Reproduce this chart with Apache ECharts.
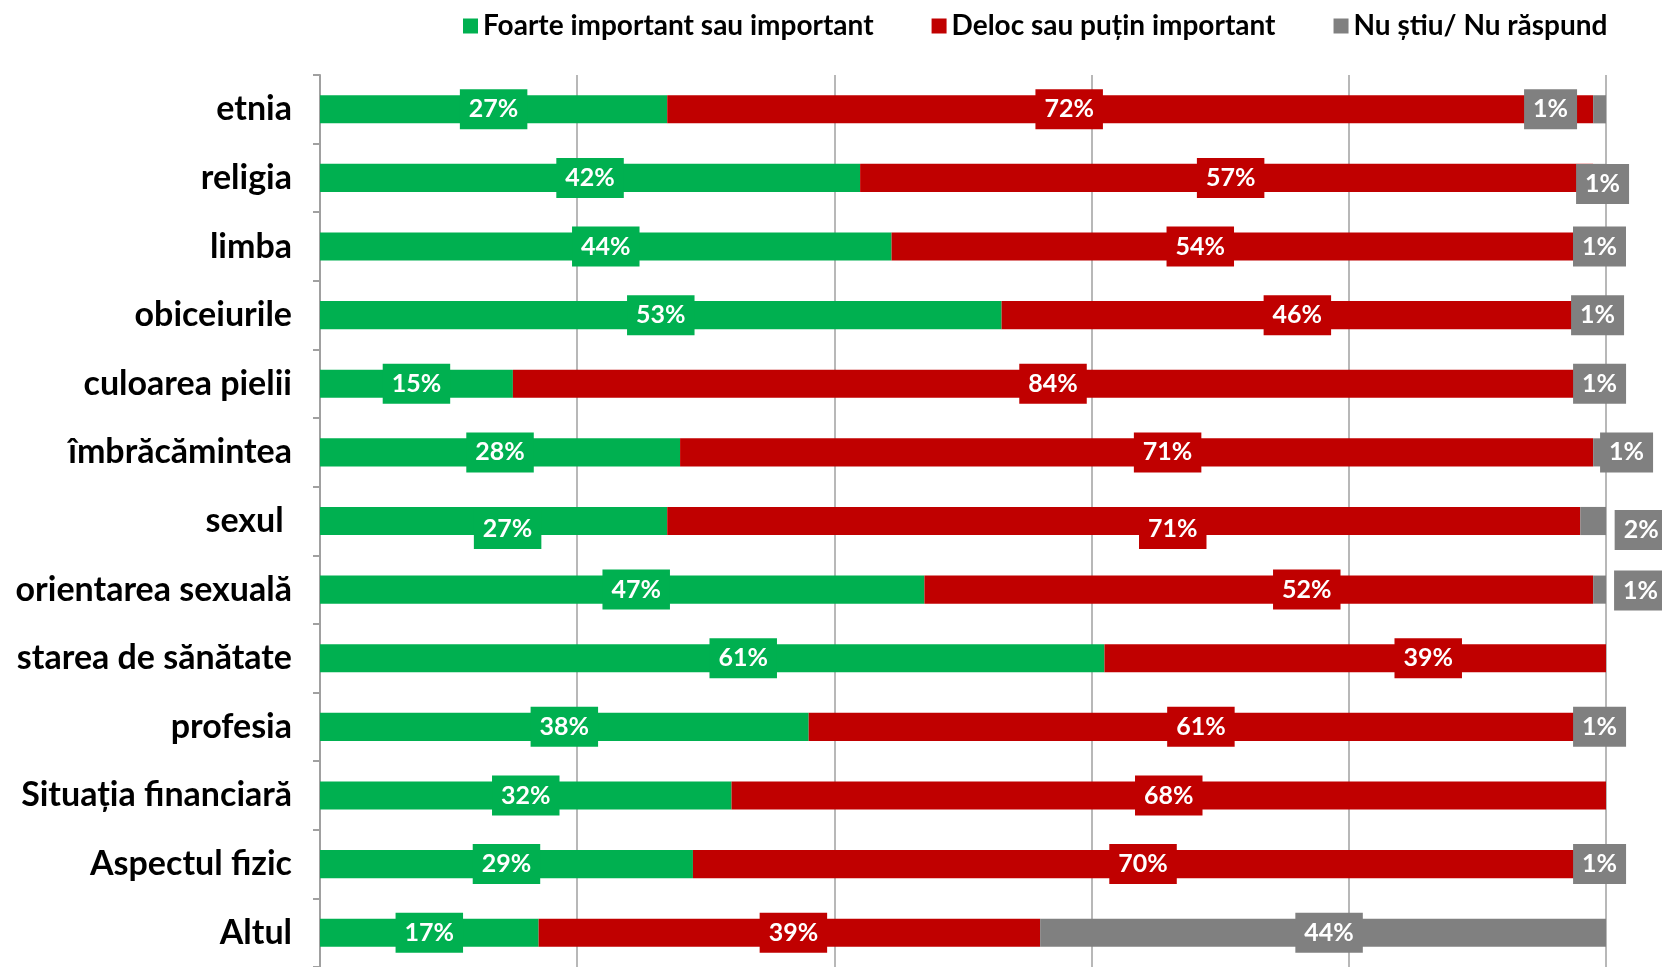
<!DOCTYPE html>
<html>
<head>
<meta charset="utf-8">
<script src="https://cdn.jsdelivr.net/npm/echarts@6/dist/echarts.min.js"></script>
<style>
html,body{margin:0;padding:0;background:#fff;}
#chart{width:1662px;height:967px;}
</style>
</head>
<body>
<div id="chart"></div>
<script>
const categories = ['etnia','religia','limba','obiceiurile','culoarea pielii','îmbrăcămintea','sexul ','orientarea sexuală','starea de sănătate','profesia','Situația financiară','Aspectul fizic','Altul'];
const seriesNames = ['Foarte important sau important','Deloc sau puțin important','Nu știu/ Nu răspund'];
const important    = [27,42,44,53,15,28,27,47,61,38,32,29,17];
const notImportant = [72,57,54,46,84,71,71,52,39,61,68,70,39];
const dontKnow     = [1,1,1,1,1,1,2,1,0,1,0,1,44];
const xTicks = [0,20,40,60,80,100];

// style: manual label nudges [dx, dy] in px, per series / category index (as in the original)
const labelNudges = [
  {6:[14,8], 7:[14,0], 8:[31,0]},
  {0:[-61,0], 1:[4,0], 2:[-42,0], 5:[31,0], 6:[49,8], 7:[48,0], 8:[73,0], 12:[4,0]},
  {0:[-49,0], 1:[3,6], 3:[-2,0], 5:[27,0], 6:[48,9], 7:[41,1], 12:[6,0]}
];

const colors = ['#00B050','#C00000','#808080'];
const FONT = 'Lato';
const seriesValues = [important, notImportant, dontKnow];
const totals = categories.map((c,i)=>important[i]+notImportant[i]+dontKnow[i]);

const series = seriesValues.map((vals, s) => ({
  name: seriesNames[s],
  type: 'bar',
  stack: 'total',
  barWidth: '41%',
  itemStyle: {color: colors[s]},
  label: {
    show: true,
    position: 'inside',
    color: '#fff',
    fontFamily: FONT,
    fontWeight: 'bold',
    fontSize: 25,
    lineHeight: 27,
    backgroundColor: colors[s],
    padding: [6, 9, 7, 9],
    formatter: p => p.data.raw + '%'
  },
  data: vals.map((v,i) => {
    const item = {value: v / totals[i] * 100, raw: v};
    if (!v) item.label = {show: false};
    else if (labelNudges[s][i]) item.label = {offset: labelNudges[s][i]};
    return item;
  })
}));

const chart = echarts.init(document.getElementById('chart'), null, {renderer: 'canvas'});
chart.setOption({
  animation: false,
  color: colors,
  legend: {
    top: 7,
    left: 458,
    icon: 'rect',
    itemWidth: 15,
    itemHeight: 15,
    itemGap: 58,
    textStyle: {fontFamily: FONT, fontWeight: 'bold', fontSize: 28, color: '#000'},
    data: seriesNames
  },
  grid: {left: 320, right: 56, top: 75, height: 896, containLabel: false},
  xAxis: {
    type: 'value',
    min: xTicks[0],
    max: xTicks[xTicks.length-1],
    interval: xTicks[1]-xTicks[0],
    axisLabel: {show: false},
    axisLine: {show: false},
    axisTick: {show: false},
    splitLine: {show: true, lineStyle: {color: '#A0A0A0', width: 1.5}}
  },
  yAxis: {
    type: 'category',
    inverse: true,
    data: categories,
    axisLine: {show: true, lineStyle: {color: '#A0A0A0', width: 2}},
    axisTick: {show: true, length: 7, lineStyle: {color: '#A0A0A0', width: 2}},
    axisLabel: {margin: 28, color: '#000', fontFamily: FONT, fontWeight: 'bold', fontSize: 34}
  },
  series: series
});
</script>
</body>
</html>
